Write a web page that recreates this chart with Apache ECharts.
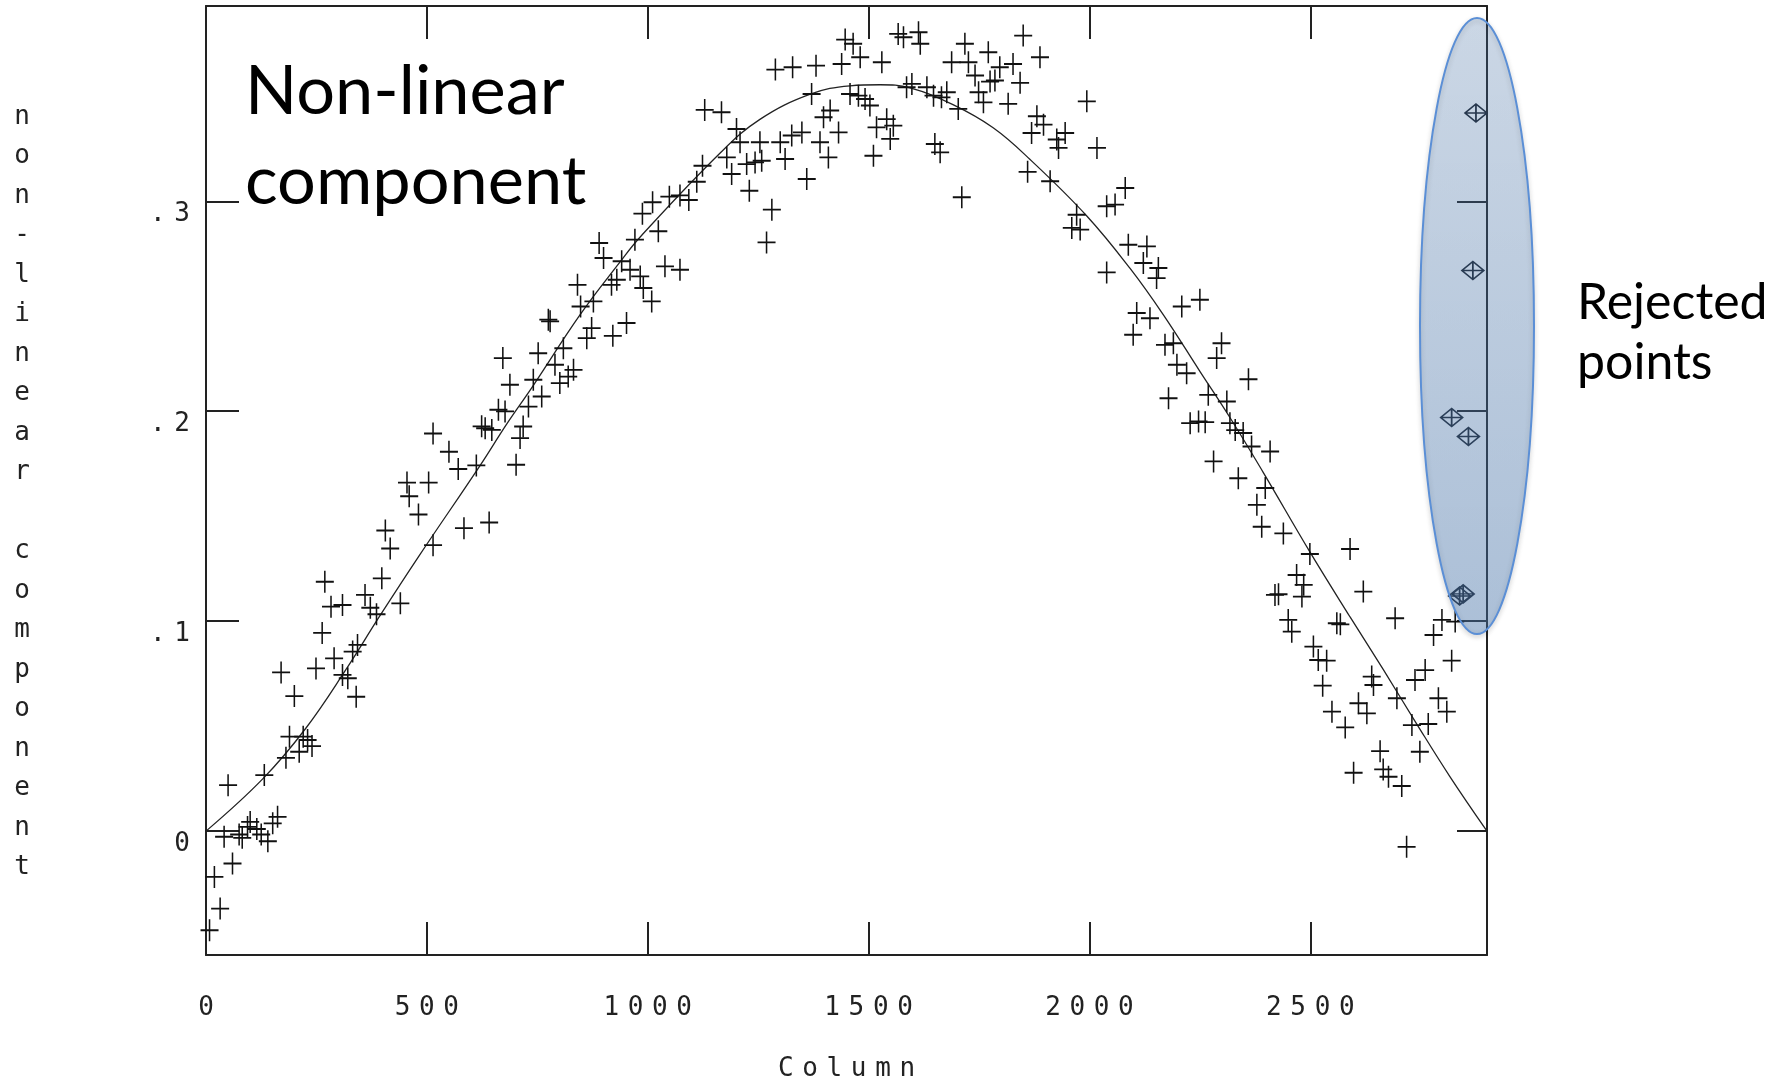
<!DOCTYPE html>
<html>
<head>
<meta charset="utf-8">
<script src="https://cdn.jsdelivr.net/npm/echarts@6/dist/echarts.min.js"></script>
<style>
  html, body { margin: 0; padding: 0; background: #fff; }
  #chart { width: 1785px; height: 1078px; }
</style>
</head>
<body>
<div id="chart"></div>
<script>
// kept points (column, non-linear component)
const colX = [
  269, 398, 360, 283, 309, 372, 386, 440, 263, 343, 332, 290, 249, 170, 309, 321, 200, 340,
  189, 220, 230, 240, 211, 181, 132, 50,
  41, 75, 82, 94, 100, 115, 125, 140, 151, 162, 60, 19, 32, 8,
  417, 514, 584, 481, 460, 455, 504, 571, 550, 514, 612, 406,
  988, 1011, 1049, 1073, 1093, 1111, 1124, 1129,
  890, 900, 941, 960, 971, 1024, 1039, 1073, 983, 990, 1009, 930, 918, 841, 877, 848,
  775, 779, 873, 952, 862, 921, 672, 752, 809, 790, 832, 820, 741, 688, 801, 760, 730,
  662, 677, 624, 632, 647, 718, 711, 702, 641,
  1447, 1465, 1481, 1530, 1439, 1381, 1328, 1289, 1567, 1579, 1613, 1617, 1718, 1771, 1850,
  1688, 1726, 1741, 1797, 1827, 1786, 1775, 1843, 1749, 1760, 1816, 1598, 1586, 1632, 1647,
  1665, 1677, 1703, 1371, 1458, 1477, 1492, 1503, 1413, 1398, 1432, 1541, 1518, 1556, 1549,
  1650, 1662, 1511, 1711, 1167, 1201, 1209, 1254, 1300, 1326, 1349, 1390, 1179, 1224, 1243,
  1258, 1311, 1409, 1190, 1230, 1360, 1281, 1269, 1888,
  1994, 1881, 1896, 1869, 1926, 1945, 1930, 2017, 1860, 1911, 2081, 2039, 2058, 1971, 1960,
  1979, 2088, 2130, 2122, 2156, 2152, 2039, 2209, 2250, 2107, 2137, 2099, 2171, 2190, 2299,
  2288, 2198, 2220, 2360, 2179, 2269, 2311, 2228, 2247, 2262, 2318, 2330, 2348, 2367, 2409,
  2281, 2337, 2398,
  2379, 2390, 2439, 2499, 2590, 2469, 2485, 2420, 2428, 2481, 2620, 2450, 2458, 2560, 2568,
  2692, 2798, 2828, 2779, 2820, 2507, 2518, 2537, 2760, 2737, 2639, 2643, 2528, 2696, 2790,
  2809, 2609, 2628, 2549, 2730, 2767, 2579, 2658, 2748, 2598, 2665, 2677, 2707, 2718
];
const nonLin = [
  0.1188, 0.1204, 0.1125, 0.1069, 0.1077, 0.1064, 0.1033, 0.1085, 0.0944, 0.0887, 0.0855, 0.0823, 0.0775, 0.0756, 0.0744, 0.0728, 0.0643, 0.0640,
  0.0450, 0.0450, 0.0434, 0.0405, 0.0378, 0.0349, 0.0267, 0.0219,
  -0.0027, -0.0016, -0.0032, 0.0020, 0.0044, 0.0010, -0.0016, -0.0048, 0.0037, 0.0068, -0.0154, -0.0218, -0.0369, -0.0472,
  0.1346, 0.1362, 0.1443, 0.1508, 0.1595, 0.1660, 0.1660, 0.1725, 0.1807, 0.1894, 0.1742, 0.1432,
  0.2941, 0.2995, 0.3022, 0.3028, 0.3006, 0.3093, 0.3169, 0.3435,
  0.2801, 0.2730, 0.2714, 0.2674, 0.2817, 0.2857, 0.2690, 0.2674, 0.2642, 0.2587, 0.2523, 0.2626, 0.2602, 0.2602, 0.2523, 0.2499,
  0.2436, 0.2428, 0.2396, 0.2420, 0.2348, 0.2359, 0.2253, 0.2276, 0.2300, 0.2221, 0.2197, 0.2165, 0.2150, 0.2126, 0.2134, 0.2070, 0.2022,
  0.2007, 0.1999, 0.1928, 0.1919, 0.1911, 0.1927, 0.1872, 0.1745, 0.1470,
  0.3770, 0.3750, 0.3686, 0.3662, 0.3654, 0.3646, 0.3638, 0.3627, 0.3797, 0.3781, 0.3805, 0.3750, 0.3750, 0.3710, 0.3789,
  0.3662, 0.3662, 0.3599, 0.3638, 0.3654, 0.3575, 0.3570, 0.3564, 0.3519, 0.3471, 0.3464, 0.3559, 0.3543, 0.3543, 0.3503,
  0.3495, 0.3519, 0.3440, 0.3511, 0.3511, 0.3503, 0.3487, 0.3456, 0.3432, 0.3400, 0.3328, 0.3391, 0.3352, 0.3360, 0.3297,
  0.3273, 0.3233, 0.3217, 0.3019, 0.3424, 0.3344, 0.3281, 0.3281, 0.3281, 0.3313, 0.3328, 0.3281, 0.3209, 0.3177, 0.3185,
  0.3193, 0.3201, 0.3209, 0.3130, 0.3050, 0.3106, 0.2960, 0.2804, 0.3686,
  0.3476, 0.3405, 0.3365, 0.3325, 0.3294, 0.3325, 0.3254, 0.3254, 0.3140, 0.3095, 0.3063, 0.2976, 0.2984, 0.2936, 0.2873,
  0.2865, 0.2793, 0.2785, 0.2706, 0.2682, 0.2634, 0.2661, 0.2499, 0.2531, 0.2468, 0.2443, 0.2364, 0.2316, 0.2324, 0.2324,
  0.2253, 0.2221, 0.2181, 0.2152, 0.2062, 0.2078, 0.2046, 0.1943, 0.1951, 0.1948, 0.1943, 0.1910, 0.1896, 0.1832, 0.1808,
  0.1761, 0.1681, 0.1634,
  0.1554, 0.1450, 0.1418, 0.1320, 0.1344, 0.1220, 0.1173, 0.1125, 0.1128, 0.1117, 0.1141, 0.1006, 0.0950, 0.0990, 0.0985,
  0.1014, 0.1006, 0.0998, 0.0934, 0.0812, 0.0879, 0.0815, 0.0812, 0.0767, 0.0720, 0.0736, 0.0696, 0.0693, 0.0633, 0.0633,
  0.0569, 0.0609, 0.0561, 0.0569, 0.0505, 0.0510, 0.0494, 0.0381, 0.0378, 0.0278, 0.0294, 0.0259, 0.0215, -0.0075
];
// rejected points
const rejX = [2875, 2868, 2820, 2858, 2838, 2846];
const rejY = [0.342, 0.267, 0.197, 0.188, 0.112, 0.113];
// fitted curve
const curveX = [0, 129, 226, 317, 392, 482, 620, 681, 740, 847, 937, 983, 1164, 1254, 1368, 1458, 1526, 1594, 1691, 1782, 1865, 1994, 2092, 2167, 2250, 2318, 2393, 2499, 2590, 2665, 2741, 2816, 2900];
const curveY = [0, 0.025, 0.049, 0.077, 0.102, 0.131, 0.174, 0.194, 0.212, 0.246, 0.271, 0.283, 0.323, 0.339, 0.351, 0.355, 0.3555, 0.354, 0.346, 0.335, 0.320, 0.293, 0.268, 0.246, 0.219, 0.197, 0.171, 0.133, 0.102, 0.077, 0.051, 0.026, 0];
const xTicks = [0, 500, 1000, 1500, 2000, 2500];
const yTicks = [0, 0.1, 0.2, 0.3];

const monoFont = 'DejaVu Sans Mono';
// letter-spaced look of the old plot font: each char is a token, gaps are small spaces
const spaced = (s) => String(s).split('').map(c => '{d|' + c + '}').join('{s| }');
const spacedRich = {
  d: { fontFamily: monoFont, fontSize: 26, lineHeight: 26, color: '#222' },
  s: { fontFamily: monoFont, fontSize: 14.4, lineHeight: 26, color: '#222' }
};

const chart = echarts.init(document.getElementById('chart'));

const axisLineStyle = { color: '#222', width: 2 };

const option = {
  backgroundColor: '#fff',
  animation: false,
  grid: { left: 206, right: 298, top: 6, bottom: 123, containLabel: false, outerBoundsMode: 'none' },
  xAxis: [
    {
      type: 'value', min: 0, max: 2900, position: 'bottom',
      axisLine: { show: true, onZero: false, lineStyle: axisLineStyle },
      axisTick: { show: true, inside: true, length: 33, customValues: xTicks, lineStyle: axisLineStyle },
      axisLabel: { customValues: xTicks, margin: 40, formatter: (v) => spaced(v), rich: spacedRich },
      splitLine: { show: false },
      name: spaced('Column'), nameLocation: 'middle', nameGap: 101,
      nameTextStyle: { rich: spacedRich }
    },
    {
      type: 'value', min: 0, max: 2900, position: 'top',
      axisLine: { show: true, onZero: false, lineStyle: axisLineStyle },
      axisTick: { show: true, inside: true, length: 33, customValues: xTicks, lineStyle: axisLineStyle },
      axisLabel: { show: false },
      splitLine: { show: false }
    }
  ],
  yAxis: [
    {
      type: 'value', min: -0.059, max: 0.393, position: 'left',
      axisLine: { show: true, onZero: false, lineStyle: axisLineStyle },
      axisTick: { show: true, inside: true, length: 33, customValues: yTicks, lineStyle: axisLineStyle },
      axisLabel: {
        customValues: yTicks, margin: 16, verticalAlign: 'top',
        formatter: (v) => v === 0 ? spaced('0') : spaced('.' + Math.round(v * 10)),
        rich: spacedRich
      },
      splitLine: { show: false }
    },
    {
      type: 'value', min: -0.059, max: 0.393, position: 'right',
      axisLine: { show: true, onZero: false, lineStyle: axisLineStyle },
      axisTick: { show: true, inside: true, length: 30, customValues: yTicks, lineStyle: axisLineStyle },
      axisLabel: { show: false },
      splitLine: { show: false }
    }
  ],
  series: [
    {
      name: 'fit', type: 'line', xAxisIndex: 0, yAxisIndex: 0,
      data: curveX.map((x, i) => [x, curveY[i]]),
      showSymbol: false, symbol: 'none', smooth: 0.4, z: 2,
      lineStyle: { color: '#222', width: 1.3 }
    },
    {
      name: 'kept', type: 'scatter', xAxisIndex: 0, yAxisIndex: 0,
      data: colX.map((x, i) => [x, nonLin[i]]),
      symbol: 'path://M0,11 L18,11 M9,0 L9,22', symbolSize: [18, 22], z: 3,
      itemStyle: { color: 'rgba(0,0,0,0)', borderColor: '#111', borderWidth: 1.7, opacity: 1 }
    },
    {
      name: 'rejected', type: 'scatter', xAxisIndex: 0, yAxisIndex: 0,
      data: rejX.map((x, i) => [x, rejY[i]]),
      symbol: 'path://M11,0 L22,9 L11,18 L0,9 Z M0,9 L22,9 M11,0 L11,18', symbolSize: [22, 18], z: 3,
      itemStyle: { color: 'rgba(0,0,0,0)', borderColor: '#1a1f28', borderWidth: 1.6, opacity: 1 }
    }
  ],
  graphic: [
    {
      // y axis title, one upright letter per line
      type: 'text', z: 100, x: 22, y: 97,
      style: {
        text: 'non-linear component'.split('').join('\n'),
        fontFamily: monoFont, fontSize: 26, fill: '#222',
        align: 'center', verticalAlign: 'top', lineHeight: 39.5
      }
    },
    {
      type: 'ellipse', z: 100,
      shape: { cx: 1477, cy: 326, rx: 57, ry: 308 },
      style: {
        fill: new echarts.graphic.LinearGradient(0, 0, 0, 1, [
          { offset: 0, color: 'rgba(79,129,189,0.24)' },
          { offset: 1, color: 'rgba(79,129,189,0.40)' }
        ]),
        stroke: '#5b8fd6', lineWidth: 2,
        shadowBlur: 5, shadowOffsetY: 2, shadowColor: 'rgba(0,0,0,0.22)'
      }
    },
    {
      type: 'text', z: 100, x: 245, y: 137,
      style: {
        text: 'Non-linear\ncomponent', fontFamily: 'Lato', fontSize: 68.5, fill: '#000',
        align: 'left', verticalAlign: 'middle', lineHeight: 90
      }
    },
    {
      type: 'text', z: 100, x: 1577, y: 333,
      style: {
        text: 'Rejected\npoints', fontFamily: 'Lato', fontSize: 50, fill: '#000',
        align: 'left', verticalAlign: 'middle', lineHeight: 60
      }
    }
  ]
};

chart.setOption(option);
</script>
</body>
</html>
